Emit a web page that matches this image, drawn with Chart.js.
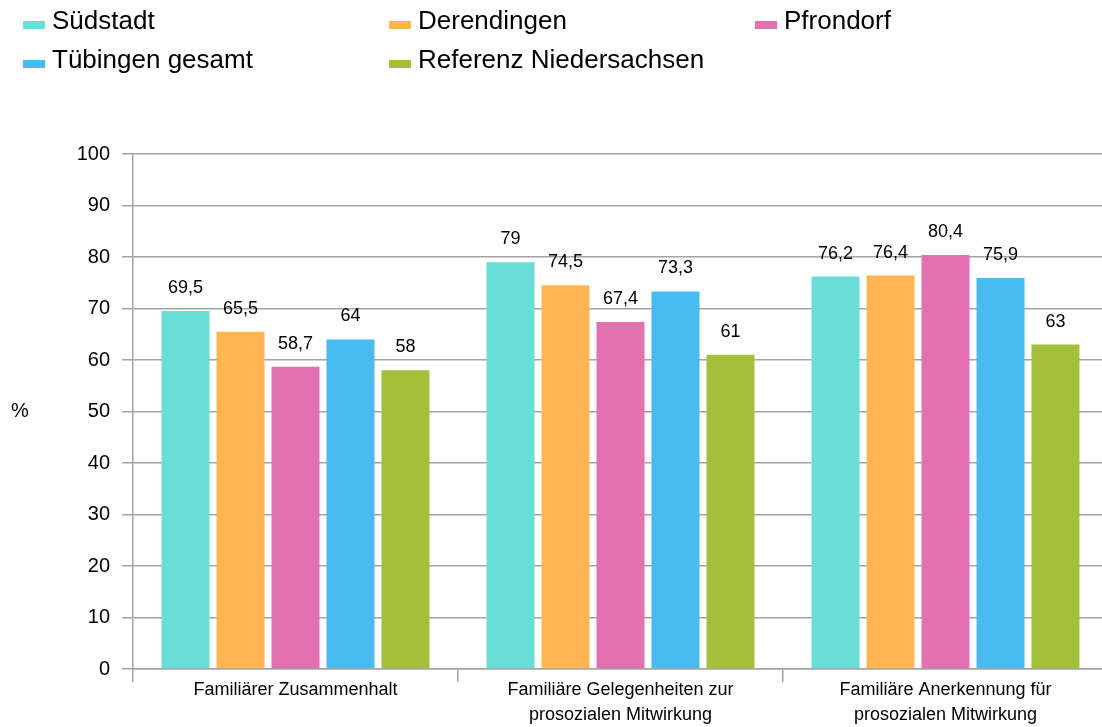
<!DOCTYPE html>
<html>
<head>
<meta charset="utf-8">
<script src="https://cdn.jsdelivr.net/npm/chart.js@4"></script>
<style>
  html, body { margin: 0; padding: 0; background: #fff; overflow: hidden; }
  #wrap { position: absolute; left: 0; top: 0; width: 1110px; height: 727px; }
</style>
</head>
<body>
<div id="wrap"><canvas id="chart" width="1110" height="727"></canvas></div>
<script>
let categories = [
    ['Familiärer Zusammenhalt'],
    ['Familiäre Gelegenheiten zur', 'prosozialen Mitwirkung'],
    ['Familiäre Anerkennung für', 'prosozialen Mitwirkung']
];
let seriesNames = ['Südstadt', 'Derendingen', 'Pfrondorf', 'Tübingen gesamt', 'Referenz Niedersachsen'];
let suedstadt = [69.5, 79, 76.2];
let derendingen = [65.5, 74.5, 76.4];
let pfrondorf = [58.7, 67.4, 80.4];
let tuebingen = [64, 73.3, 75.9];
let niedersachsen = [58, 61, 63];
let colors = ['#69ded9', '#ffb552', '#e371b1', '#49bbef', '#a2c03c'];
let yTicks = [0, 10, 20, 30, 40, 50, 60, 70, 80, 90, 100];
let yTitle = '%';

let font = '"Liberation Sans", Arial, sans-serif';
let gridColor = '#a3a3a3';

let allSeries = [suedstadt, derendingen, pfrondorf, tuebingen, niedersachsen];

// value labels above each bar
let valueLabels = {
    id: 'valueLabels',
    afterDatasetsDraw(chart) {
        let c = chart.ctx;
        c.save();
        c.font = '18px ' + font;
        c.fillStyle = '#000';
        c.textAlign = 'center';
        c.textBaseline = 'middle';
        chart.data.datasets.forEach((ds, i) => {
            chart.getDatasetMeta(i).data.forEach((bar, j) => {
                let txt = String(ds.data[j]).replace('.', ',');
                c.fillText(txt, bar.x, bar.y - 23);
            });
        });
        c.restore();
    }
};

// legend in three columns, plus the "%" axis title
let legendAndTitle = {
    id: 'legendAndTitle',
    afterDraw(chart) {
        let c = chart.ctx;
        c.save();
        let colX = [23, 389, 755];
        let rowY = [29, 68];
        c.font = '26px ' + font;
        c.textBaseline = 'alphabetic';
        c.textAlign = 'left';
        chart.data.datasets.forEach((ds, i) => {
            let x = colX[i % 3];
            let y = rowY[Math.floor(i / 3)];
            c.fillStyle = ds.backgroundColor;
            c.fillRect(x, y - 8, 22, 8);
            c.fillStyle = '#000';
            c.fillText(ds.label, x + 29, y);
        });
        let a = chart.chartArea;
        c.font = '20px ' + font;
        c.textAlign = 'center';
        c.textBaseline = 'middle';
        c.fillText(yTitle, 20, (a.top + a.bottom) / 2);
        c.restore();
    }
};

let ctx = document.getElementById('chart').getContext('2d');

let chart = new Chart(ctx, {
    type: 'bar',
    data: {
        labels: categories,
        datasets: seriesNames.map((name, i) => ({
            label: name,
            data: allSeries[i],
            backgroundColor: colors[i],
            categoryPercentage: 0.846,
            barPercentage: 0.873
        }))
    },
    options: {
        responsive: false,
        animation: false,
        layout: { padding: { top: 154, right: 2, left: 0, bottom: 0 } },
        plugins: {
            legend: { display: false },
            tooltip: { enabled: false }
        },
        scales: {
            x: {
                offset: true,
                grid: {
                    offset: true,
                    drawOnChartArea: false,
                    drawTicks: true,
                    tickLength: 13,
                    color: gridColor,
                    lineWidth: 1.5
                },
                border: { display: true, color: gridColor, width: 1.5 },
                ticks: {
                    color: '#000',
                    padding: -5,
                    maxRotation: 0,
                    font: { family: font, size: 18, lineHeight: 1.4 }
                },
                afterFit(scale) { scale.height = 58; }
            },
            y: {
                min: 0,
                max: 100,
                afterBuildTicks(scale) { scale.ticks = yTicks.map(v => ({ value: v })); },
                grid: {
                    color: gridColor,
                    lineWidth: 1.5,
                    drawTicks: true,
                    tickLength: 11
                },
                border: { display: true, color: gridColor, width: 1.5 },
                ticks: {
                    color: '#000',
                    padding: 12,
                    font: { family: font, size: 20 }
                },
                afterFit(scale) { scale.width = 133; }
            }
        }
    },
    plugins: [valueLabels, legendAndTitle]
});
</script>
</body>
</html>
